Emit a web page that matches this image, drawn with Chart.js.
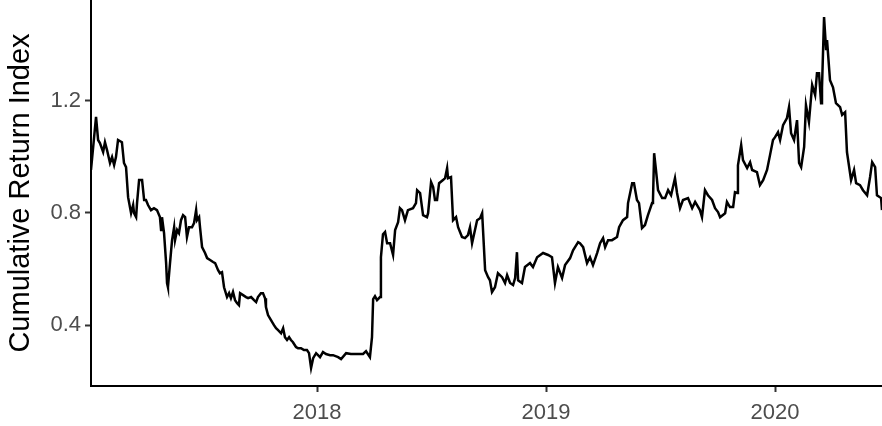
<!DOCTYPE html>
<html>
<head>
<meta charset="utf-8">
<script src="https://cdn.jsdelivr.net/npm/chart.js@4/dist/chart.umd.min.js"></script>
<style>
  html, body { margin: 0; padding: 0; background: #fff; }
  #wrap { width: 882px; height: 426px; }
</style>
</head>
<body>
<div id="wrap"><canvas id="myChart" width="882" height="426"></canvas></div>
<script>
// dates as decimal years
const years = [
  2017.013, 2017.035, 2017.044, 2017.052, 2017.066, 2017.074, 2017.083, 2017.096, 2017.105, 2017.114,
  2017.122, 2017.131, 2017.148, 2017.157, 2017.166, 2017.175, 2017.188, 2017.197, 2017.201, 2017.210,
  2017.214, 2017.223, 2017.236, 2017.245, 2017.253, 2017.262, 2017.275, 2017.288, 2017.301, 2017.314,
  2017.319, 2017.323, 2017.332, 2017.341, 2017.345, 2017.349, 2017.358, 2017.367, 2017.376, 2017.380,
  2017.389, 2017.397, 2017.406, 2017.415, 2017.424, 2017.432, 2017.441, 2017.454, 2017.463, 2017.472,
  2017.476, 2017.485, 2017.489, 2017.498, 2017.511, 2017.520, 2017.533, 2017.546, 2017.555, 2017.568,
  2017.576, 2017.585, 2017.594, 2017.607, 2017.616, 2017.624, 2017.633, 2017.642, 2017.651, 2017.659,
  2017.664, 2017.677, 2017.690, 2017.699, 2017.712, 2017.725, 2017.734, 2017.742, 2017.755, 2017.764,
  2017.773, 2017.777, 2017.786, 2017.799, 2017.812, 2017.821, 2017.830, 2017.843, 2017.852, 2017.860,
  2017.869, 2017.878, 2017.886, 2017.895, 2017.908, 2017.917,
  2017.930, 2017.943, 2017.956, 2017.965, 2017.974, 2017.983, 2017.996, 2018.013, 2018.026, 2018.039,
  2018.057, 2018.070, 2018.092, 2018.105, 2018.127, 2018.148, 2018.166, 2018.179, 2018.201, 2018.214,
  2018.231, 2018.240, 2018.245, 2018.253, 2018.262, 2018.275, 2018.279, 2018.288, 2018.297, 2018.306,
  2018.319, 2018.332, 2018.341, 2018.354, 2018.362, 2018.371, 2018.384, 2018.397, 2018.419, 2018.432,
  2018.437, 2018.450, 2018.463, 2018.480, 2018.485, 2018.498, 2018.507, 2018.515, 2018.524, 2018.533,
  2018.550, 2018.559, 2018.568, 2018.572, 2018.585, 2018.594, 2018.607, 2018.616, 2018.633, 2018.646,
  2018.659, 2018.668, 2018.677, 2018.699, 2018.712, 2018.721, 2018.734, 2018.747, 2018.755, 2018.764,
  2018.777, 2018.790, 2018.808, 2018.821, 2018.830, 2018.843, 2018.856, 2018.865, 2018.873, 2018.878,
  2018.895, 2018.908, 2018.930, 2018.943, 2018.961, 2018.987, 2019.009, 2019.026, 2019.039, 2019.052,
  2019.070, 2019.083, 2019.105, 2019.118, 2019.140,
  2019.148, 2019.162, 2019.179, 2019.192, 2019.205, 2019.223, 2019.236, 2019.249, 2019.258, 2019.271,
  2019.288, 2019.310, 2019.319, 2019.336, 2019.354, 2019.358, 2019.376, 2019.384, 2019.397, 2019.406,
  2019.419, 2019.432, 2019.445, 2019.463, 2019.467, 2019.472, 2019.480, 2019.489, 2019.507, 2019.520,
  2019.533, 2019.546, 2019.563, 2019.572, 2019.585, 2019.598, 2019.620, 2019.638, 2019.651, 2019.672,
  2019.681, 2019.694, 2019.707, 2019.725, 2019.738, 2019.751, 2019.760, 2019.782, 2019.790, 2019.803,
  2019.817, 2019.825, 2019.834, 2019.838, 2019.852, 2019.860, 2019.878, 2019.891, 2019.900, 2019.921,
  2019.934, 2019.948, 2019.965, 2019.978, 2019.991, 2020.000, 2020.013, 2020.022, 2020.035, 2020.052,
  2020.061, 2020.070, 2020.083, 2020.096, 2020.105, 2020.114, 2020.127, 2020.135, 2020.148, 2020.162,
  2020.175, 2020.183, 2020.192, 2020.201, 2020.205, 2020.214, 2020.223, 2020.227, 2020.240, 2020.253,
  2020.266, 2020.284, 2020.293, 2020.306, 2020.314, 2020.332, 2020.345, 2020.354, 2020.371, 2020.384,
  2020.402, 2020.415, 2020.424, 2020.437, 2020.445, 2020.463, 2020.467
];
const returnIndex = [
  0.953, 1.142, 1.060, 1.049, 1.017, 1.052, 1.024, 0.978, 0.999, 0.971,
  0.999, 1.060, 1.052, 0.978, 0.963, 0.856, 0.799, 0.828, 0.799, 0.785,
  0.835, 0.917, 0.917, 0.846, 0.846, 0.828, 0.810, 0.817, 0.810, 0.785,
  0.739, 0.785, 0.728, 0.621, 0.550, 0.535, 0.621, 0.703, 0.749, 0.703,
  0.739, 0.728, 0.774, 0.792, 0.785, 0.714, 0.749, 0.749, 0.764, 0.810,
  0.774, 0.785, 0.749, 0.678, 0.657, 0.639, 0.632, 0.625, 0.621, 0.596,
  0.585, 0.589, 0.535, 0.500, 0.514, 0.496, 0.518, 0.489, 0.478, 0.471,
  0.514, 0.507, 0.500, 0.496, 0.500, 0.489, 0.482, 0.500, 0.514, 0.514,
  0.496, 0.464, 0.436, 0.418, 0.400, 0.389, 0.382, 0.371, 0.389, 0.357,
  0.347, 0.357, 0.347, 0.339, 0.322, 0.318,
  0.318, 0.311, 0.311, 0.300, 0.247, 0.282, 0.300, 0.286, 0.304, 0.297,
  0.293, 0.293, 0.286, 0.279, 0.300, 0.297, 0.297, 0.297, 0.297, 0.307,
  0.286, 0.357, 0.493, 0.503, 0.489, 0.500, 0.642, 0.724, 0.732, 0.692,
  0.692, 0.650, 0.739, 0.767, 0.817, 0.810, 0.774, 0.810, 0.817, 0.835,
  0.881, 0.871, 0.792, 0.785, 0.799, 0.910, 0.892, 0.846, 0.846, 0.906,
  0.917, 0.924, 0.960, 0.924, 0.928, 0.774, 0.785, 0.749, 0.714, 0.710,
  0.721, 0.749, 0.692, 0.774, 0.781, 0.799, 0.596, 0.571, 0.560, 0.518,
  0.535, 0.585, 0.571, 0.550, 0.578, 0.550, 0.543, 0.568, 0.660, 0.560,
  0.550, 0.607, 0.621, 0.607, 0.642, 0.657, 0.650, 0.642, 0.550, 0.607,
  0.568, 0.614, 0.639, 0.667, 0.696,
  0.692, 0.678, 0.621, 0.642, 0.614, 0.657, 0.692, 0.710, 0.678, 0.703,
  0.703, 0.714, 0.749, 0.774, 0.785, 0.835, 0.906, 0.906, 0.846, 0.835,
  0.746, 0.757, 0.792, 0.835, 0.846, 1.013, 0.953, 0.881, 0.853, 0.853,
  0.881, 0.863, 0.924, 0.871, 0.817, 0.846, 0.853, 0.817, 0.839, 0.810,
  0.785, 0.881, 0.863, 0.846, 0.817, 0.803, 0.785, 0.799, 0.839, 0.821,
  0.821, 0.874, 0.871, 0.970, 1.042, 0.988, 0.960, 0.981, 0.953, 0.945,
  0.899, 0.917, 0.953, 1.006, 1.060, 1.070, 1.088, 1.060, 1.113, 1.138,
  1.177, 1.084, 1.060, 1.131, 0.978, 0.963, 1.035, 1.184, 1.124, 1.256,
  1.220, 1.298, 1.298, 1.191, 1.248, 1.498, 1.380, 1.416, 1.273, 1.248,
  1.191, 1.177, 1.149, 1.159, 1.017, 0.917, 0.953, 0.906, 0.899, 0.881,
  0.863, 0.928, 0.981, 0.963, 0.863, 0.853, 0.810
];
const yearTicks = [2018, 2019, 2020];
const valueTicks = [0.4, 0.8, 1.2];

const points = years.map((yr, i) => ({ x: yr, y: returnIndex[i] }));
const fontFamily = "'Liberation Sans', Arial, Helvetica, sans-serif";

const ctx = document.getElementById('myChart').getContext('2d');
new Chart(ctx, {
  type: 'line',
  data: {
    datasets: [{
      label: 'Cumulative Return Index',
      data: points,
      borderColor: '#000000',
      borderWidth: 2.5,
      pointRadius: 0,
      tension: 0,
      fill: false
    }]
  },
  options: {
    responsive: false,
    animation: false,
    layout: { padding: 0 },
    plugins: {
      legend: { display: false },
      tooltip: { enabled: false }
    },
    scales: {
      x: {
        type: 'linear',
        min: 2017.013,
        max: 2020.467,
        afterBuildTicks: (scale) => { scale.ticks = yearTicks.map(v => ({ value: v })); },
        afterFit: (scale) => {
          scale.height = 40;
          scale.paddingLeft = 0;
          scale.paddingRight = 0;
        },
        ticks: {
          callback: (v) => String(v),
          color: '#4d4d4d',
          font: { family: fontFamily, size: 22 },
          padding: 8,
          maxRotation: 0,
          autoSkip: false
        },
        grid: {
          drawOnChartArea: false,
          drawTicks: true,
          tickLength: 6,
          tickWidth: 2,
          tickColor: '#333333'
        },
        border: { display: true, color: '#000000', width: 2 }
      },
      y: {
        type: 'linear',
        min: 0.183,
        max: 1.559,
        afterBuildTicks: (scale) => { scale.ticks = valueTicks.map(v => ({ value: v })); },
        afterFit: (scale) => {
          scale.width = 91;
          scale.paddingTop = 0;
          scale.paddingBottom = 0;
        },
        ticks: {
          callback: (v) => v.toFixed(1),
          color: '#4d4d4d',
          font: { family: fontFamily, size: 22 },
          padding: 4,
          autoSkip: false
        },
        title: {
          display: true,
          text: 'Cumulative Return Index',
          color: '#000000',
          font: { family: fontFamily, size: 29 },
          padding: { top: 4, bottom: 0 }
        },
        grid: {
          drawOnChartArea: false,
          drawTicks: true,
          tickLength: 6,
          tickWidth: 2,
          tickColor: '#333333'
        },
        border: { display: true, color: '#000000', width: 2 }
      }
    }
  }
});
</script>
</body>
</html>
